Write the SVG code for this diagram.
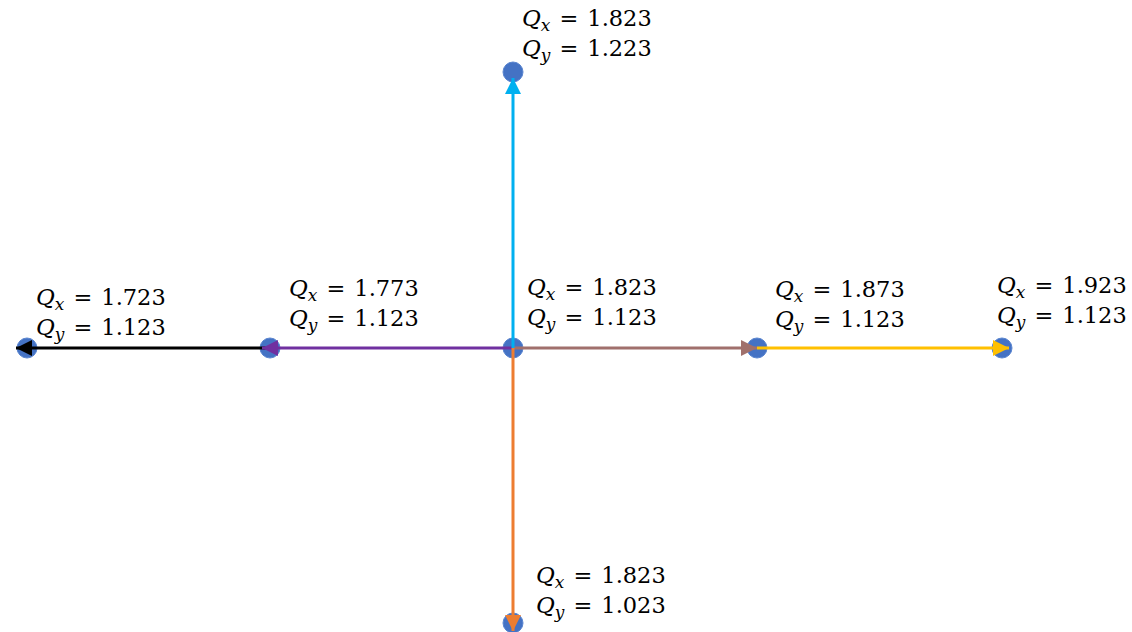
<svg xmlns="http://www.w3.org/2000/svg" width="1132" height="632" viewBox="0 0 1132 632">
<style>
.n{fill:#4472C4;stroke:#5B86D0;stroke-width:1}
.t{font-family:"DejaVu Serif","Liberation Serif",serif;font-size:22.5px;fill:#000}
.i{font-style:italic;font-size:23px}
.s{font-style:italic;font-size:17px}
.c{fill:none;stroke-width:3}
</style>
<defs>
<marker id="aBlack" markerWidth="16" markerHeight="16" refX="16" refY="8" orient="auto" markerUnits="userSpaceOnUse"><path d="M0,0L16,8L0,16z" fill="#000"/></marker>
<marker id="aPurple" markerWidth="16" markerHeight="16" refX="16" refY="8" orient="auto" markerUnits="userSpaceOnUse"><path d="M0,0L16,8L0,16z" fill="#7030A0"/></marker>
<marker id="aCyan" markerWidth="16" markerHeight="16" refX="16" refY="8" orient="auto" markerUnits="userSpaceOnUse"><path d="M0,0L16,8L0,16z" fill="#00B0F0"/></marker>
<marker id="aOrange" markerWidth="16" markerHeight="16" refX="16" refY="8" orient="auto" markerUnits="userSpaceOnUse"><path d="M0,0L16,8L0,16z" fill="#ED7D31"/></marker>
<marker id="aBrown" markerWidth="16" markerHeight="16" refX="16" refY="8" orient="auto" markerUnits="userSpaceOnUse"><path d="M0,0L16,8L0,16z" fill="#A0706C"/></marker>
<marker id="aYellow" markerWidth="16" markerHeight="16" refX="16" refY="8" orient="auto" markerUnits="userSpaceOnUse"><path d="M0,0L16,8L0,16z" fill="#FFC000"/></marker>
</defs>
<g id="nodes">
<g id="n-top"><circle class="n" cx="513" cy="72" r="10"/>
<text class="t" x="522" y="26"><tspan class="i">Q</tspan><tspan class="s" dy="5">x</tspan><tspan dx="9" dy="-5">=</tspan><tspan dx="9">1.823</tspan></text>
<text class="t" x="522" y="56"><tspan class="i">Q</tspan><tspan class="s" dy="5">y</tspan><tspan dx="9" dy="-5">=</tspan><tspan dx="9">1.223</tspan></text></g>
<g id="n-left1"><circle class="n" cx="27" cy="348" r="10"/>
<text class="t" x="36" y="305"><tspan class="i">Q</tspan><tspan class="s" dy="5">x</tspan><tspan dx="9" dy="-5">=</tspan><tspan dx="9">1.723</tspan></text>
<text class="t" x="36" y="335"><tspan class="i">Q</tspan><tspan class="s" dy="5">y</tspan><tspan dx="9" dy="-5">=</tspan><tspan dx="9">1.123</tspan></text></g>
<g id="n-left2"><circle class="n" cx="270" cy="348" r="10"/>
<text class="t" x="289" y="296"><tspan class="i">Q</tspan><tspan class="s" dy="5">x</tspan><tspan dx="9" dy="-5">=</tspan><tspan dx="9">1.773</tspan></text>
<text class="t" x="289" y="326"><tspan class="i">Q</tspan><tspan class="s" dy="5">y</tspan><tspan dx="9" dy="-5">=</tspan><tspan dx="9">1.123</tspan></text></g>
<g id="n-center"><circle class="n" cx="513" cy="348" r="10"/>
<text class="t" x="527" y="295"><tspan class="i">Q</tspan><tspan class="s" dy="5">x</tspan><tspan dx="9" dy="-5">=</tspan><tspan dx="9">1.823</tspan></text>
<text class="t" x="527" y="325"><tspan class="i">Q</tspan><tspan class="s" dy="5">y</tspan><tspan dx="9" dy="-5">=</tspan><tspan dx="9">1.123</tspan></text></g>
<g id="n-right1"><circle class="n" cx="757" cy="348" r="10"/>
<text class="t" x="775" y="297"><tspan class="i">Q</tspan><tspan class="s" dy="5">x</tspan><tspan dx="9" dy="-5">=</tspan><tspan dx="9">1.873</tspan></text>
<text class="t" x="775" y="327"><tspan class="i">Q</tspan><tspan class="s" dy="5">y</tspan><tspan dx="9" dy="-5">=</tspan><tspan dx="9">1.123</tspan></text></g>
<g id="n-right2"><circle class="n" cx="1002" cy="348" r="10"/>
<text class="t" x="997" y="293"><tspan class="i">Q</tspan><tspan class="s" dy="5">x</tspan><tspan dx="9" dy="-5">=</tspan><tspan dx="9">1.923</tspan></text>
<text class="t" x="997" y="323"><tspan class="i">Q</tspan><tspan class="s" dy="5">y</tspan><tspan dx="9" dy="-5">=</tspan><tspan dx="9">1.123</tspan></text></g>
<g id="n-bottom"><circle class="n" cx="513" cy="623" r="10"/>
<text class="t" x="536" y="583"><tspan class="i">Q</tspan><tspan class="s" dy="5">x</tspan><tspan dx="9" dy="-5">=</tspan><tspan dx="9">1.823</tspan></text>
<text class="t" x="536" y="613"><tspan class="i">Q</tspan><tspan class="s" dy="5">y</tspan><tspan dx="9" dy="-5">=</tspan><tspan dx="9">1.023</tspan></text></g>
</g>
<g id="connectors">
<line class="c" x1="270" y1="348" x2="16" y2="348" stroke="#000" marker-end="url(#aBlack)"/>
<line class="c" x1="513" y1="348" x2="262" y2="348" stroke="#7030A0" marker-end="url(#aPurple)"/>
<line class="c" x1="513" y1="348" x2="757" y2="348" stroke="#A0706C" marker-end="url(#aBrown)"/>
<line class="c" x1="757" y1="348" x2="1009" y2="348" stroke="#FFC000" marker-end="url(#aYellow)"/>
<line class="c" x1="513" y1="348" x2="513" y2="78" stroke="#00B0F0" marker-end="url(#aCyan)"/>
<line class="c" x1="513" y1="348" x2="513" y2="631" stroke="#ED7D31" marker-end="url(#aOrange)"/>
</g>
</svg>
